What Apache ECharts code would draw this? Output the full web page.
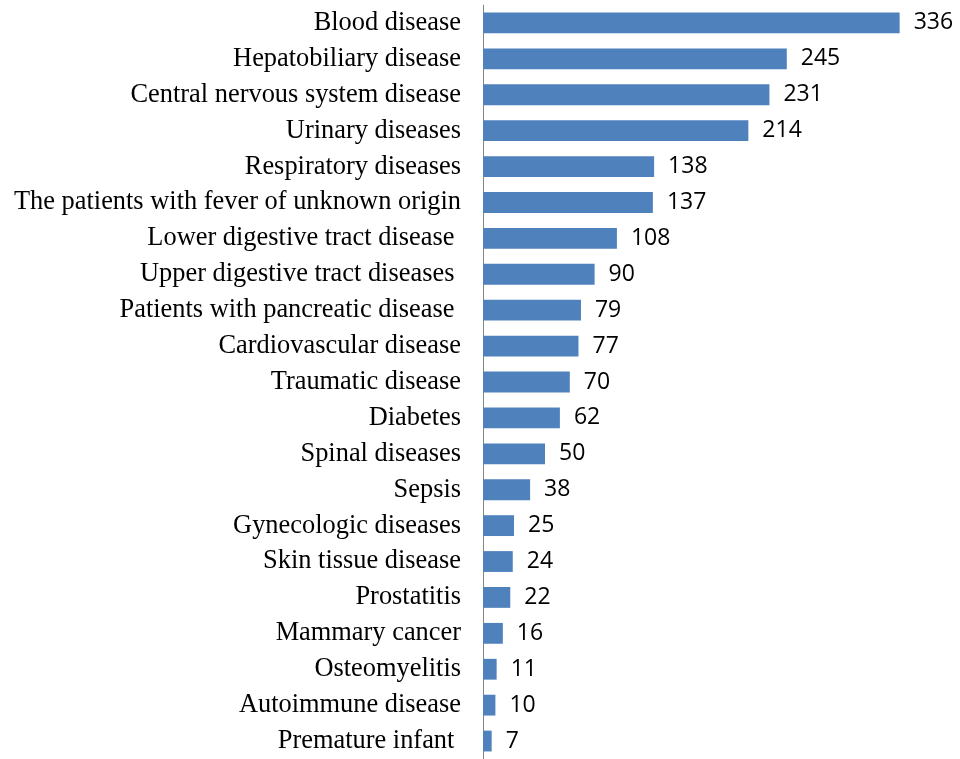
<!DOCTYPE html>
<html><head><meta charset="utf-8">
<script src="https://cdn.jsdelivr.net/npm/echarts@6/dist/echarts.min.js"></script>
<style>html,body{margin:0;padding:0;background:#fff}#c{width:960px;height:759px}</style>
</head><body><div id="c"></div>
<script>
const categories = ["Blood disease","Hepatobiliary disease","Central nervous system disease","Urinary diseases","Respiratory diseases","The patients with fever of unknown origin","Lower digestive tract disease ","Upper digestive tract diseases ","Patients with pancreatic disease ","Cardiovascular disease","Traumatic disease","Diabetes","Spinal diseases","Sepsis","Gynecologic diseases","Skin tissue disease","Prostatitis","Mammary cancer","Osteomyelitis","Autoimmune disease","Premature infant "];
const values = [336,245,231,214,138,137,108,90,79,77,70,62,50,38,25,24,22,16,11,10,7];

const chart = echarts.init(document.getElementById('c'));
chart.setOption({
  animation:false,
  grid:{left:483, top:5, width:434, height:758},
  xAxis:{type:'value', min:0, max:350, show:false},
  yAxis:{type:'category', data:categories, inverse:true,
    axisLine:{show:true, lineStyle:{color:'#868686', width:1}},
    axisTick:{show:false},
    axisLabel:{fontFamily:'Liberation Serif', fontSize:26.4, color:'#000', margin:22}},
  series:[{type:'bar', data:values, barCategoryGap:'42%',
    itemStyle:{color:'#4f81bd'},
    label:{show:true, position:'right', distance:14, fontFamily:'Open Sans', fontSize:23, color:'#000'}}]
});
</script></body></html>
